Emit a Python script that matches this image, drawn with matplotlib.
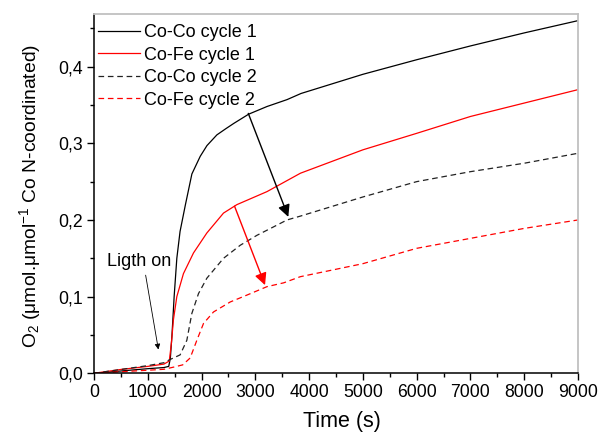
import matplotlib
matplotlib.use("Agg")
import matplotlib.pyplot as plt
from matplotlib.ticker import MultipleLocator, FuncFormatter

plt.rcParams['font.family'] = ['Liberation Sans', 'DejaVu Sans']
plt.rcParams['mathtext.fontset'] = 'custom'
plt.rcParams['mathtext.rm'] = 'Liberation Sans'
plt.rcParams['mathtext.it'] = 'Liberation Sans'

# Co-Co cycle 1
t_coco1 = [0, 500, 1000, 1300, 1390, 1420, 1450, 1490, 1540, 1600, 1700, 1820, 1975,
           2100, 2285, 2450, 2600, 2876, 3217, 3590, 3850, 5000, 6000, 7000, 8000, 9000]
o2_coco1 = [0, 0.003, 0.006, 0.0075, 0.009, 0.02, 0.05, 0.10, 0.15, 0.185, 0.22, 0.26, 0.283,
            0.297, 0.311, 0.319, 0.326, 0.338, 0.348, 0.357, 0.365, 0.39, 0.409, 0.427, 0.444, 0.46]

# Co-Fe cycle 1
t_cofe1 = [0, 500, 1000, 1300, 1400, 1440, 1477, 1540, 1663, 1850, 2098, 2408, 2657,
           3217, 3839, 5000, 6000, 7000, 8000, 9000]
o2_cofe1 = [0, 0.005, 0.009, 0.012, 0.016, 0.04, 0.07, 0.10, 0.13, 0.157, 0.183, 0.209, 0.22,
            0.237, 0.261, 0.2915, 0.313, 0.335, 0.3525, 0.37]

# Co-Co cycle 2
t_coco2 = [0, 500, 1000, 1300, 1415, 1601, 1726, 1819, 1943, 2098, 2408, 2719, 3030,
           3339, 3588, 3836, 5000, 6000, 7000, 8000, 9000]
o2_coco2 = [0, 0.005, 0.010, 0.0138, 0.018, 0.024, 0.043, 0.078, 0.104, 0.124, 0.15, 0.167, 0.18,
            0.191, 0.200, 0.205, 0.230, 0.250, 0.263, 0.274, 0.287]

# Co-Fe cycle 2
t_cofe2 = [0, 500, 1000, 1300, 1477, 1650, 1788, 1912, 2036, 2222, 2532, 2843, 3216,
           3527, 3836, 5000, 6000, 7000, 8000, 9000]
o2_cofe2 = [0, 0.002, 0.004, 0.0052, 0.008, 0.011, 0.02, 0.043, 0.065, 0.080, 0.093, 0.102, 0.113,
            0.118, 0.126, 0.143, 0.163, 0.176, 0.189, 0.20]

labels = ['Co-Co cycle 1', 'Co-Fe cycle 1', 'Co-Co cycle 2', 'Co-Fe cycle 2']

fig = plt.figure(figsize=(5.98, 4.33), dpi=100)
ax = fig.add_axes([0.1572, 0.1379, 0.8094, 0.8309])

dash = (0, (4.5, 3))
lw = 0.9
ax.plot(t_coco1, o2_coco1, color='black', lw=lw, label=labels[0])
ax.plot(t_cofe1, o2_cofe1, color='red', lw=lw, label=labels[1])
ax.plot(t_coco2, o2_coco2, color='#222222', lw=lw, linestyle=dash, label=labels[2])
ax.plot(t_cofe2, o2_cofe2, color='red', lw=lw, linestyle=dash, label=labels[3])

ax.set_xlim(0, 9000)
ax.set_ylim(0, 0.4693)

ax.xaxis.set_major_locator(MultipleLocator(1000))
ax.xaxis.set_minor_locator(MultipleLocator(500))
ax.yaxis.set_major_locator(MultipleLocator(0.1))
ax.yaxis.set_minor_locator(MultipleLocator(0.05))
ax.yaxis.set_major_formatter(FuncFormatter(lambda v, p: f"{v:.1f}".replace('.', ',')))

ax.tick_params(which='both', direction='out', top=False, right=False, labelsize=12.7,
               width=1.0, colors='black')
ax.tick_params(which='major', length=5, pad=3)
ax.tick_params(which='minor', length=3)

for s in ['left', 'bottom']:
    ax.spines[s].set_color('black')
    ax.spines[s].set_linewidth(1.1)
for s in ['top', 'right']:
    ax.spines[s].set_color('#c0c0c0')
    ax.spines[s].set_linewidth(1.3)

fig.text(341.7 / 598, 6.0 / 433, 'Time (s)', fontsize=15.5, ha='center', va='baseline')
fig.text(30 / 598, 237.5 / 433,
         r'O$_2$ ($\mathregular{\mu}$mol.$\mathregular{\mu}$mol$^{-1}$ Co N-coordinated)',
         fontsize=13.9, rotation=90, ha='center', va='center')

leg = ax.legend(loc='upper left', frameon=False, fontsize=13, handlelength=2.3,
                handletextpad=0.22, labelspacing=0.3, borderaxespad=0.0,
                bbox_to_anchor=(-0.006, 0.99))

ax.annotate('', xy=(3613, 0.204), xytext=(2869, 0.339),
            arrowprops=dict(arrowstyle='-|>', color='black', lw=1.0, mutation_scale=18,
                            shrinkA=0, shrinkB=0))
ax.annotate('', xy=(3180, 0.115), xytext=(2613, 0.218),
            arrowprops=dict(arrowstyle='-|>', color='red', lw=1.0, mutation_scale=18,
                            shrinkA=0, shrinkB=0))
ax.annotate('', xy=(1197, 0.031), xytext=(960, 0.128),
            arrowprops=dict(arrowstyle='-|>', color='black', lw=0.6, mutation_scale=8,
                            shrinkA=0, shrinkB=0))
ax.text(248, 0.14, 'Ligth on', fontsize=13, ha='left', va='baseline')

fig.savefig('out.png', dpi=100)
